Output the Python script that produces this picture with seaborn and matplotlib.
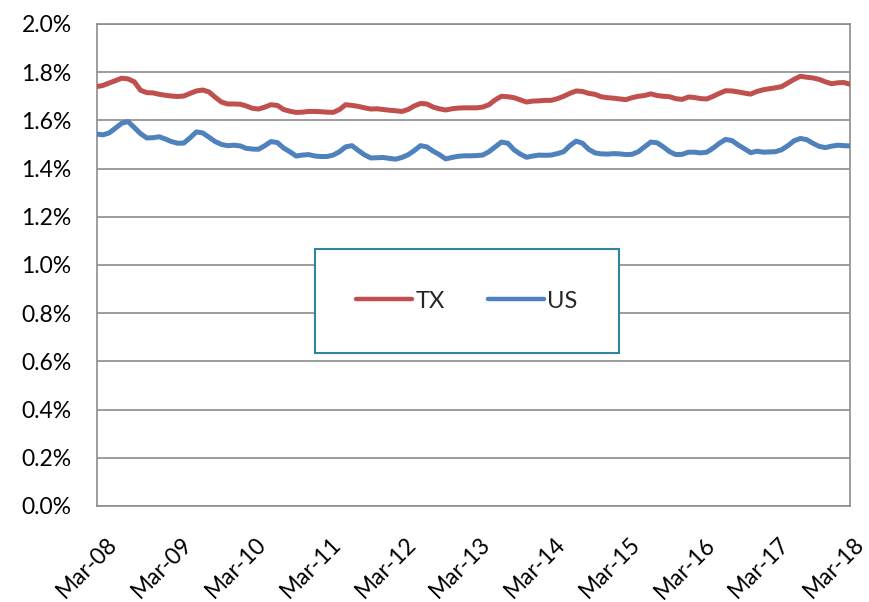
import pandas as pd
import seaborn as sns
import matplotlib.pyplot as plt
import matplotlib.dates as mdates
import matplotlib.transforms as mtransforms
from matplotlib.ticker import PercentFormatter

# monthly values, Mar-08 .. Apr-18 (percent)
tx = [
    1.740, 1.745, 1.755, 1.765, 1.775, 1.772, 1.760, 1.725, 1.715, 1.714,
    1.708, 1.704, 1.701, 1.699, 1.701, 1.712, 1.722, 1.726, 1.718, 1.696,
    1.676, 1.668, 1.668, 1.667, 1.660, 1.650, 1.647, 1.655, 1.665, 1.662,
    1.645, 1.638, 1.633, 1.634, 1.637, 1.637, 1.636, 1.634, 1.633, 1.645,
    1.665, 1.662, 1.658, 1.652, 1.647, 1.648, 1.645, 1.642, 1.640, 1.637,
    1.645, 1.660, 1.670, 1.668, 1.655, 1.648, 1.643, 1.648, 1.651, 1.652,
    1.652, 1.652, 1.655, 1.665, 1.685, 1.700, 1.698, 1.694, 1.685, 1.676,
    1.680, 1.681, 1.683, 1.683, 1.690, 1.700, 1.712, 1.722, 1.720, 1.712,
    1.708, 1.698, 1.694, 1.692, 1.689, 1.686, 1.694, 1.700, 1.703, 1.710,
    1.703, 1.700, 1.698, 1.690, 1.687, 1.697, 1.695, 1.690, 1.689, 1.700,
    1.712, 1.723, 1.722, 1.718, 1.713, 1.709, 1.720, 1.727, 1.731, 1.735,
    1.740, 1.755, 1.770, 1.783, 1.779, 1.776, 1.770, 1.760, 1.752, 1.756,
    1.757, 1.750,
]
us = [
    1.543, 1.540, 1.548, 1.568, 1.588, 1.595, 1.570, 1.545, 1.527, 1.528,
    1.532, 1.522, 1.512, 1.505, 1.506, 1.528, 1.552, 1.548, 1.530, 1.512,
    1.500, 1.495, 1.497, 1.494, 1.484, 1.481, 1.480, 1.495, 1.512, 1.508,
    1.485, 1.470, 1.452, 1.456, 1.458, 1.452, 1.450, 1.450, 1.456, 1.470,
    1.490, 1.495, 1.475, 1.457, 1.444, 1.445, 1.446, 1.442, 1.439, 1.446,
    1.457, 1.475, 1.495, 1.490, 1.472, 1.458, 1.440, 1.446, 1.451, 1.453,
    1.453, 1.454, 1.456, 1.470, 1.490, 1.510, 1.505, 1.478, 1.460, 1.447,
    1.452, 1.456, 1.455, 1.456, 1.462, 1.470, 1.495, 1.514, 1.505, 1.480,
    1.465, 1.461, 1.460, 1.462, 1.461, 1.458, 1.459, 1.470, 1.490, 1.510,
    1.507, 1.490, 1.470, 1.458, 1.459, 1.468, 1.468, 1.465, 1.468, 1.485,
    1.505, 1.521, 1.516, 1.498, 1.482, 1.466, 1.472, 1.468, 1.469, 1.470,
    1.478, 1.495, 1.515, 1.525, 1.520, 1.505, 1.492, 1.487, 1.493, 1.497,
    1.495, 1.494,
]
series_names = ["TX", "US"]
colors = ["#C0504D", "#4F81BD"]

dates = pd.date_range("2008-03-01", periods=len(tx), freq="MS")
df = pd.DataFrame({
    "date": list(dates) * 2,
    "value": tx + us,
    "region": ["TX"] * len(tx) + ["US"] * len(us),
})

sns.set_theme(style="white")
plt.rcParams["font.family"] = ["Lato", "DejaVu Sans"]

fig = plt.figure(figsize=(8.69, 6.02), dpi=100)
ax = fig.add_axes([0.1113, 0.1595, 0.8669, 0.8007])

sns.lineplot(data=df, x="date", y="value", hue="region", hue_order=series_names,
             palette=colors, linewidth=3.6, ax=ax, zorder=3)

ax.set_ylim(0, 2.0)
ax.set_yticks([i * 0.2 for i in range(11)])
ax.yaxis.set_major_formatter(PercentFormatter(xmax=100, decimals=1))
ax.set_xlim(dates[0], dates[-1])
ax.xaxis.set_major_locator(mdates.MonthLocator(bymonth=3))
ax.xaxis.set_major_formatter(mdates.DateFormatter("%b-%y"))
ax.set_xlabel("")
ax.set_ylabel("")

grey = "#8C8C8C"
ax.grid(axis="y", color=grey, linewidth=1.2, zorder=0)
ax.set_axisbelow(True)
for side in ["left", "bottom", "right", "top"]:
    ax.spines[side].set_color(grey)
    ax.spines[side].set_linewidth(1.2)

ax.tick_params(axis="both", direction="out", length=6, width=1.2,
               colors=grey, labelcolor="black", labelsize=16.5)
ax.tick_params(axis="y", pad=12)
ax.tick_params(axis="x", pad=14, labelrotation=45)

fig.canvas.draw()
# nudge the rotated month labels right, like the original
shift = mtransforms.ScaledTranslation(7 / 72, 0, fig.dpi_scale_trans)
for tick in ax.xaxis.get_major_ticks():
    lab = tick.label1
    lab.set_ha("right")
    lab.set_rotation_mode("anchor")
    lab.set_transform(lab.get_transform() + shift)

leg = ax.legend(loc="center", bbox_to_anchor=(0.4916, 0.425), ncol=2,
                fontsize=17, handlelength=2.35, handletextpad=0.15,
                columnspacing=1.85, borderpad=1.75, fancybox=False,
                framealpha=1, edgecolor="#31849B", title=None)
leg.get_frame().set_linewidth(1.5)
for line in leg.get_lines():
    line.set_linewidth(3.2)
    line.set_solid_capstyle("round")

fig.savefig("out.png", dpi=100)
